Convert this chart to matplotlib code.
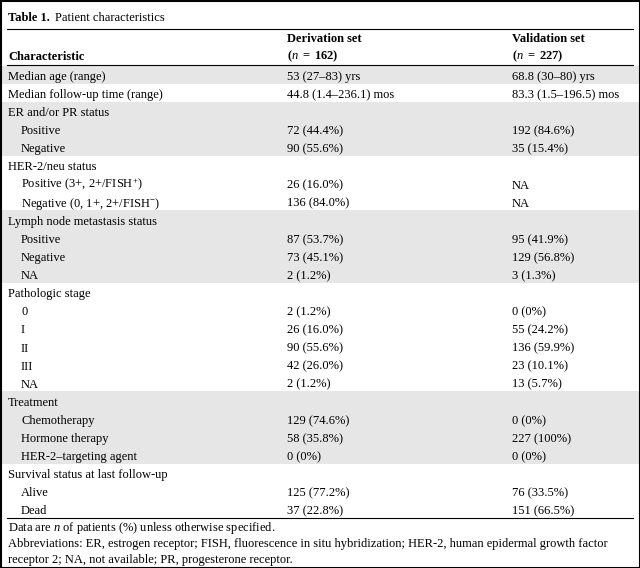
import matplotlib
matplotlib.use('Agg')
import matplotlib.pyplot as plt
from matplotlib.patches import Rectangle

plt.rcParams['font.family'] = ['Liberation Serif', 'DejaVu Serif']
plt.rcParams['mathtext.fontset'] = 'custom'
plt.rcParams['mathtext.rm'] = 'Liberation Serif'
plt.rcParams['mathtext.it'] = 'Liberation Serif:italic'
plt.rcParams['mathtext.bf'] = 'Liberation Serif:bold'

title_bold = 'Table 1.'
title_rest = 'Patient characteristics'
col_headers = ['Characteristic', 'Derivation set', 'Validation set']
col_n = [r'$\mathbf{(}\mathit{n}\mathbf{\ =\ 162)}$', r'$\mathbf{(}\mathit{n}\mathbf{\ =\ 227)}$']

labels = [
	'Median age (range)', 'Median follow-up time (range)',
	'ER and/or PR status', 'Positive', 'Negative',
	'HER-2/neu status', r'Positive (3+, 2+/FISH$^{+}$)', r'Negative (0, 1+, 2+/FISH$^{-}$)',
	'Lymph node metastasis status', 'Positive', 'Negative', 'NA',
	'Pathologic stage', '0', 'I', 'II', 'III', 'NA',
	'Treatment', 'Chemotherapy', 'Hormone therapy', 'HER-2\u2013targeting agent',
	'Survival status at last follow-up', 'Alive', 'Dead',
]
indent = [0, 0, 0, 1, 1, 0, 1, 1, 0, 1, 1, 1, 0, 1, 1, 1, 1, 1, 0, 1, 1, 1, 0, 1, 1]
derivation = [
	'53 (27\u201383) yrs', '44.8 (1.4\u2013236.1) mos',
	'', '72 (44.4%)', '90 (55.6%)',
	'', '26 (16.0%)', '136 (84.0%)',
	'', '87 (53.7%)', '73 (45.1%)', '2 (1.2%)',
	'', '2 (1.2%)', '26 (16.0%)', '90 (55.6%)', '42 (26.0%)', '2 (1.2%)',
	'', '129 (74.6%)', '58 (35.8%)', '0 (0%)',
	'', '125 (77.2%)', '37 (22.8%)',
]
validation = [
	'68.8 (30\u201380) yrs', '83.3 (1.5\u2013196.5) mos',
	'', '192 (84.6%)', '35 (15.4%)',
	'', 'NA', 'NA',
	'', '95 (41.9%)', '129 (56.8%)', '3 (1.3%)',
	'', '0 (0%)', '55 (24.2%)', '136 (59.9%)', '23 (10.1%)', '13 (5.7%)',
	'', '0 (0%)', '227 (100%)', '0 (0%)',
	'', '76 (33.5%)', '151 (66.5%)',
]
# shaded blocks as (first row, number of rows)
shaded = [(0, 1), (2, 3), (8, 4), (18, 4)]

footnotes = [
	r'Data are $\mathit{n}$ of patients (%) unless otherwise specified.',
	'Abbreviations: ER, estrogen receptor; FISH, fluorescence in situ hybridization; HER-2, human epidermal growth factor',
	'receptor 2; NA, not available; PR, progesterone receptor.',
]

fig = plt.figure(figsize=(6.4, 5.68), dpi=100)
ax = fig.add_axes([0, 0, 1, 1])
ax.set_xlim(0, 640)
ax.set_ylim(568, 0)
ax.axis('off')

fs = 9.0
row_h = 18.1
top = 65.5
x_col = [8, 287, 512]
x_ind = 21
gray = '#e6e6e6'

for start, n in shaded:
	ax.add_patch(Rectangle((0, top + start * row_h), 640, n * row_h, facecolor=gray, edgecolor='none'))

# title
t = ax.text(x_col[0], 21, title_bold, fontsize=fs, fontweight='bold', va='baseline')
fig.canvas.draw()
bb = t.get_window_extent()
x_after = bb.x1 / fig.dpi * 100 + 5
ax.text(x_after, 21, title_rest, fontsize=fs, va='baseline')

ax.plot([7, 633], [28.5, 28.5], color='black', lw=0.8)
ax.text(x_col[0], 59.5, col_headers[0], fontsize=fs, fontweight='bold', va='baseline')
for i in range(2):
	ax.text(x_col[i + 1], 41.5, col_headers[i + 1], fontsize=fs, fontweight='bold', va='baseline')
	ax.text(x_col[i + 1], 59.5, col_n[i], fontsize=fs, va='baseline')
ax.plot([7, 633], [65, 65], color='black', lw=0.8)

for i, lab in enumerate(labels):
	y = top + i * row_h + 14.5
	ax.text(x_ind if indent[i] else x_col[0], y, lab, fontsize=fs, va='baseline')
	ax.text(x_col[1], y, derivation[i], fontsize=fs, va='baseline')
	ax.text(x_col[2], y, validation[i], fontsize=fs, va='baseline')

y_end = top + len(labels) * row_h
ax.plot([7, 633], [y_end, y_end], color='black', lw=0.8)

for j, note in enumerate(footnotes):
	ax.text(x_col[0], y_end + 13.5 + j * 15.5, note, fontsize=fs, va='baseline')

ax.add_patch(Rectangle((0.5, 0.5), 639, 567, facecolor='none', edgecolor='black', lw=1.5))

fig.savefig('out.png', dpi=100)
